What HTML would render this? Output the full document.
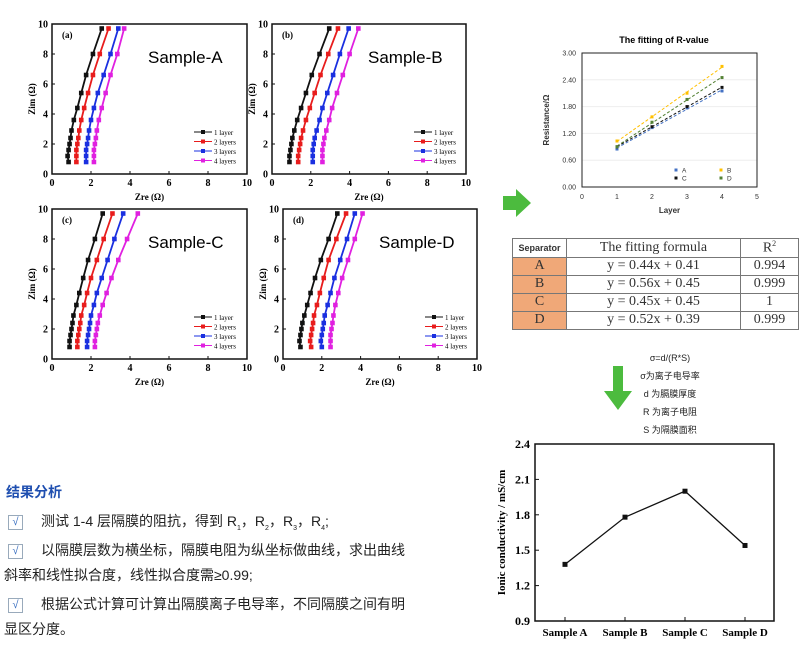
<!DOCTYPE html>
<html><head><meta charset="utf-8">
<style>
body{margin:0;width:800px;height:650px;background:#fff;position:relative;overflow:hidden;font-family:"Liberation Sans","Noto Sans CJK SC",sans-serif}
.t{position:absolute;white-space:nowrap}
.ln{font-size:14px;color:#222;left:8px}
.cb{display:inline-block;width:13px;height:13px;border:1px solid #9ab;color:#3a6fc0;font-size:11px;line-height:13px;text-align:center;margin-right:18px;vertical-align:1px}
table{border-collapse:collapse;position:absolute;left:512px;top:238px;font-family:"Liberation Serif",serif;font-size:14px;color:#333}
td{border:1px solid #777;text-align:center;height:17px;padding:0}
</style></head><body>
<svg id="eis" width="800" height="650" style="position:absolute;left:0;top:0"></svg>

<svg id="rchart" width="800" height="650" style="position:absolute;left:0;top:0"></svg>

<table>
<tr><td style="width:53px;font-family:'Liberation Sans',sans-serif;font-size:9px;font-weight:bold">Separator</td><td style="width:173px;font-size:14px">The fitting formula</td><td style="width:57px">R<sup style="font-size:8px">2</sup></td></tr>
<tr><td style="background:#f0a878">A</td><td>y = 0.44x + 0.41</td><td>0.994</td></tr>
<tr><td style="background:#f0a878">B</td><td>y = 0.56x + 0.45</td><td>0.999</td></tr>
<tr><td style="background:#f0a878">C</td><td>y = 0.45x + 0.45</td><td>1</td></tr>
<tr><td style="background:#f0a878">D</td><td>y = 0.52x + 0.39</td><td>0.999</td></tr>
</table>

<div class="t" style="left:620px;top:349px;font-size:9px;line-height:18px;text-align:center;width:100px;color:#222">σ=d/(R*S)<br>σ为离子电导率<br>d 为膈膜厚度<br>R 为离子电阻<br>S 为隔膜面积</div>

<svg width="800" height="650" style="position:absolute;left:0;top:0">
<polygon points="503,196 516,196 516,189 531,203 516,217 516,210 503,210" fill="#4cbb3e"/>
<polygon points="613,366 623,366 623,391 632,391 618,410 604,391 613,391" fill="#4cbb3e"/>
</svg>

<div class="t" style="left:6px;top:482px;font-size:14px;font-weight:bold;color:#1f4fb0">结果分析</div>
<div class="t ln" style="top:511px"><span class="cb">√</span>测试 1-4 层隔膜的阻抗，得到 R<sub style="font-size:7px">1</sub>，R<sub style="font-size:7px">2</sub>，R<sub style="font-size:7px">3</sub>，R<sub style="font-size:7px">4</sub>;</div>
<div class="t ln" style="top:540px"><span class="cb">√</span>以隔膜层数为横坐标，隔膜电阻为纵坐标做曲线，求出曲线</div>
<div class="t ln" style="top:565px;left:4px">斜率和线性拟合度，线性拟合度需≥0.99;</div>
<div class="t ln" style="top:594px"><span class="cb">√</span>根据公式计算可计算出隔膜离子电导率，不同隔膜之间有明</div>
<div class="t ln" style="top:619px;left:4px">显区分度。</div>

<svg id="cond" width="800" height="650" style="position:absolute;left:0;top:0"></svg>

<script>
const NS="http://www.w3.org/2000/svg";
function mk(p,tag,a){const e=document.createElementNS(NS,tag);for(const k in a)e.setAttribute(k,a[k]);p.appendChild(e);return e;}

/* ---------- EIS data ---------- */
const zimLevels=[0.8,1.2,1.6,2.0,2.4,2.9,3.6,4.4,5.4,6.6,8.0,9.7];
const seriesNames=["1 layer","2 layers","3 layers","4 layers"];
const seriesColors=["#111","#e81c1c","#1a2fe0","#e020e0"];
const panelA=[[0.85,0.8,0.85,0.9,0.95,1.0,1.12,1.3,1.5,1.75,2.1,2.55],[1.25,1.25,1.25,1.3,1.35,1.4,1.5,1.65,1.85,2.1,2.45,2.9],[1.75,1.75,1.75,1.8,1.85,1.9,2.0,2.15,2.35,2.65,3.0,3.4],[2.15,2.15,2.15,2.2,2.25,2.3,2.4,2.55,2.75,3.0,3.35,3.7]];
const panelB=[[0.9,0.9,0.95,1.0,1.05,1.15,1.3,1.5,1.75,2.05,2.45,2.95],[1.35,1.35,1.4,1.45,1.5,1.6,1.75,1.95,2.2,2.5,2.9,3.4],[2.1,2.1,2.1,2.15,2.2,2.3,2.45,2.6,2.85,3.15,3.5,3.95],[2.6,2.6,2.6,2.65,2.7,2.8,2.95,3.1,3.35,3.65,4.0,4.45]];
const panelC=[[0.9,0.9,0.95,1.0,1.05,1.1,1.25,1.4,1.6,1.85,2.2,2.6],[1.3,1.3,1.35,1.4,1.45,1.5,1.65,1.8,2.0,2.3,2.65,3.1],[1.8,1.8,1.85,1.9,1.95,2.0,2.15,2.3,2.55,2.85,3.2,3.65],[2.2,2.2,2.25,2.3,2.35,2.45,2.6,2.8,3.05,3.4,3.85,4.4]];
const panelD=[[0.9,0.85,0.9,0.95,1.0,1.1,1.25,1.42,1.65,1.95,2.35,2.8],[1.45,1.4,1.45,1.5,1.55,1.6,1.75,1.9,2.1,2.35,2.75,3.25],[2.0,1.95,2.0,2.05,2.1,2.15,2.3,2.45,2.65,2.95,3.3,3.7],[2.45,2.45,2.45,2.5,2.55,2.6,2.7,2.85,3.05,3.35,3.7,4.1]];
const panelData=[panelA,panelB,panelC,panelD];
const panelTags=["(a)","(b)","(c)","(d)"];
const panelTitles=["Sample-A","Sample-B","Sample-C","Sample-D"];
const axisTicks=[0,2,4,6,8,10];
const boxes=[[52,24,247,174],[272,24,466,174],[52,209,247,359],[283,209,477,359]];

const eis=document.getElementById('eis');
panelData.forEach((pd,pi)=>{
  const [x0,y0,x1,y1]=boxes[pi];
  const sx=v=>x0+(x1-x0)*v/10, sy=v=>y1-(y1-y0)*v/10;
  const g=mk(eis,'g',{});
  
  
  const fr=mk(g,'rect',{x:x0,y:y0,width:x1-x0,height:y1-y0,fill:'none',stroke:'#111','stroke-width':1.5});
  
  
  axisTicks.forEach(t=>{
    mk(g,'line',{x1:sx(t),x2:sx(t),y1:y1,y2:y1-3,stroke:'#111'});
    mk(g,'line',{x1:x0,x2:x0+3,y1:sy(t),y2:sy(t),stroke:'#111'});
    const tx=mk(g,'text',{x:sx(t),y:y1+12,'font-size':10,'font-weight':'bold','text-anchor':'middle','font-family':'Liberation Serif'});tx.textContent=t;
    
    
    const ty=mk(g,'text',{x:x0-4,y:sy(t)+3.5,'font-size':10,'font-weight':'bold','text-anchor':'end','font-family':'Liberation Serif'});ty.textContent=t;
    
    
  });
  const xt=mk(g,'text',{x:(x0+x1)/2,y:y1+26,'font-size':9,'font-weight':'bold','text-anchor':'middle','font-family':'Liberation Serif'});xt.textContent='Zre (Ω)';
  
  
  const yt=mk(g,'text',{x:0,y:0,'font-size':9,'font-weight':'bold','text-anchor':'middle','font-family':'Liberation Serif',transform:`translate(${x0-17},${(y0+y1)/2}) rotate(-90)`});yt.textContent='Zim (Ω)';
  
  
  const tg=mk(g,'text',{x:x0+10,y:y0+14,'font-size':9,'font-weight':'bold','font-family':'Liberation Serif'});tg.textContent=panelTags[pi];
  
  
  const tt=mk(g,'text',{x:x0+96,y:y0+39,'font-size':17,'font-family':'Liberation Sans'});tt.textContent=panelTitles[pi];
  
  
  pd.forEach((s,si)=>{
    const pts=s.map((v,k)=>sx(v)+','+sy(zimLevels[k])).join(' ');
    const pl=mk(g,'polyline',{points:pts,fill:'none',stroke:seriesColors[si],'stroke-width':1.8});
    
    
    s.forEach((v,k)=>{
      const m=mk(g,'rect',{x:sx(v)-2.3,y:sy(zimLevels[k])-2.3,width:4.6,height:4.6,fill:seriesColors[si]});
      
      
    });
    const ly=y1-42+si*9.5, lx=x0+142;
    mk(g,'line',{x1:lx,x2:lx+18,y1:ly,y2:ly,stroke:seriesColors[si]});
    mk(g,'rect',{x:lx+7,y:ly-2,width:4,height:4,fill:seriesColors[si]});
    const lt=mk(g,'text',{x:lx+20,y:ly+3,'font-size':7,'font-family':'Liberation Serif'});lt.textContent=seriesNames[si];
    
    
  });
});

/* ---------- R-value chart ---------- */
const layers=[1,2,3,4];
const rNames=["A","B","C","D"];
const rColors=["#4472c4","#ffc000","#111","#548235"];
const rA=[0.85,1.33,1.77,2.15];
const rB=[1.03,1.57,2.10,2.70];
const rC=[0.90,1.35,1.80,2.23];
const rD=[0.90,1.45,1.96,2.45];
const rSeries=[rA,rB,rC,rD];
const rYTicks=[0,0.6,1.2,1.8,2.4,3.0];
const rXTicks=[0,1,2,3,4,5];
(function(){
  const s=document.getElementById('rchart');
  const X0=582,X1=757,Y0=53,Y1=187;
  const sx=v=>X0+(X1-X0)*v/5, sy=v=>Y1-(Y1-Y0)*v/3;
  const tt=mk(s,'text',{x:664,y:43,'font-size':9,'font-weight':'bold','text-anchor':'middle'});tt.textContent='The fitting of R-value';
  
  
  rYTicks.forEach(t=>{
    if(t>0)mk(s,'line',{x1:X0,x2:X1,y1:sy(t),y2:sy(t),stroke:'#eee'});
    const l=mk(s,'text',{x:X0-6,y:sy(t)+2.5,'font-size':7,'text-anchor':'end',fill:'#333'});l.textContent=t.toFixed(2);
    
    
  });
  rXTicks.forEach(t=>{
    const l=mk(s,'text',{x:sx(t),y:Y1+12,'font-size':7,'text-anchor':'middle',fill:'#333'});l.textContent=t;
    
    
  });
  mk(s,'rect',{x:X0,y:Y0,width:X1-X0,height:Y1-Y0,fill:'none',stroke:'#222','stroke-width':1});
  const xl=mk(s,'text',{x:sx(2.5),y:Y1+26,'font-size':8,'font-weight':'bold','text-anchor':'middle',fill:'#333'});xl.textContent='Layer';
  
  
  const yl=mk(s,'text',{x:0,y:0,'font-size':8,'font-weight':'bold','text-anchor':'middle',fill:'#333',transform:`translate(${X0-33},${(Y0+Y1)/2}) rotate(-90)`});yl.textContent='Resistance/Ω';
  
  
  rSeries.forEach((ser,i)=>{
    const n=layers.length,mx=layers.reduce((a,b)=>a+b)/n,my=ser.reduce((a,b)=>a+b)/n;
    let num=0,den=0;layers.forEach((x,k)=>{num+=(x-mx)*(ser[k]-my);den+=(x-mx)**2;});
    const b=num/den,a=my-b*mx;
    const tl=mk(s,'line',{x1:sx(1),y1:sy(a+b),x2:sx(4),y2:sy(a+4*b),stroke:rColors[i],'stroke-width':1,'stroke-dasharray':'3,2'});
    
    
    ser.forEach((v,k)=>{
      const c=mk(s,'rect',{x:sx(layers[k])-1.5,y:sy(v)-1.5,width:3,height:3,fill:rColors[i]});
      
      
    });
    const lx=[676,721,676,721][i],ly=[170,170,178,178][i];
    mk(s,'rect',{x:lx-1.5,y:ly-1.5,width:3,height:3,fill:rColors[i]});
    const lt=mk(s,'text',{x:lx+6,y:ly+2.5,'font-size':6.5,fill:'#333'});lt.textContent=rNames[i];
    
    
  });
})();

/* ---------- Conductivity chart ---------- */
const samples=["Sample A","Sample B","Sample C","Sample D"];
const conductivity=[1.38,1.78,2.00,1.54];
const condTicks=[0.9,1.2,1.5,1.8,2.1,2.4];
(function(){
  const s=document.getElementById('cond');
  const X0=535,X1=774,Y0=444,Y1=621;
  const sx=i=>X0+30+i*60, sy=v=>Y1-(Y1-Y0)*(v-0.9)/1.5;
  mk(s,'rect',{x:X0,y:Y0,width:X1-X0,height:Y1-Y0,fill:'none',stroke:'#111','stroke-width':1.5});
  condTicks.forEach(t=>{
    mk(s,'line',{x1:X0,x2:X0+4,y1:sy(t),y2:sy(t),stroke:'#111'});
    const l=mk(s,'text',{x:X0-5,y:sy(t)+4,'font-size':12,'font-weight':'bold','text-anchor':'end','font-family':'Liberation Serif'});l.textContent=t.toFixed(1);
    
    
  });
  samples.forEach((n,i)=>{
    mk(s,'line',{x1:sx(i),x2:sx(i),y1:Y1,y2:Y1-4,stroke:'#111'});
    const l=mk(s,'text',{x:sx(i),y:Y1+15,'font-size':11,'font-weight':'bold','text-anchor':'middle','font-family':'Liberation Serif'});l.textContent=n;
    
    
  });
  const yl=mk(s,'text',{x:0,y:0,'font-size':11,'font-weight':'bold','text-anchor':'middle','font-family':'Liberation Serif',transform:`translate(${X0-30},${(Y0+Y1)/2}) rotate(-90)`});yl.textContent='Ionic conductivity / mS/cm';
  
  
  const pl=mk(s,'polyline',{points:conductivity.map((v,i)=>sx(i)+','+sy(v)).join(' '),fill:'none',stroke:'#111','stroke-width':1.3});
  
  
  conductivity.forEach((v,i)=>{
    const m=mk(s,'rect',{x:sx(i)-2.5,y:sy(v)-2.5,width:5,height:5,fill:'#111'});
    
    
  });
})();
</script>
</body></html>
